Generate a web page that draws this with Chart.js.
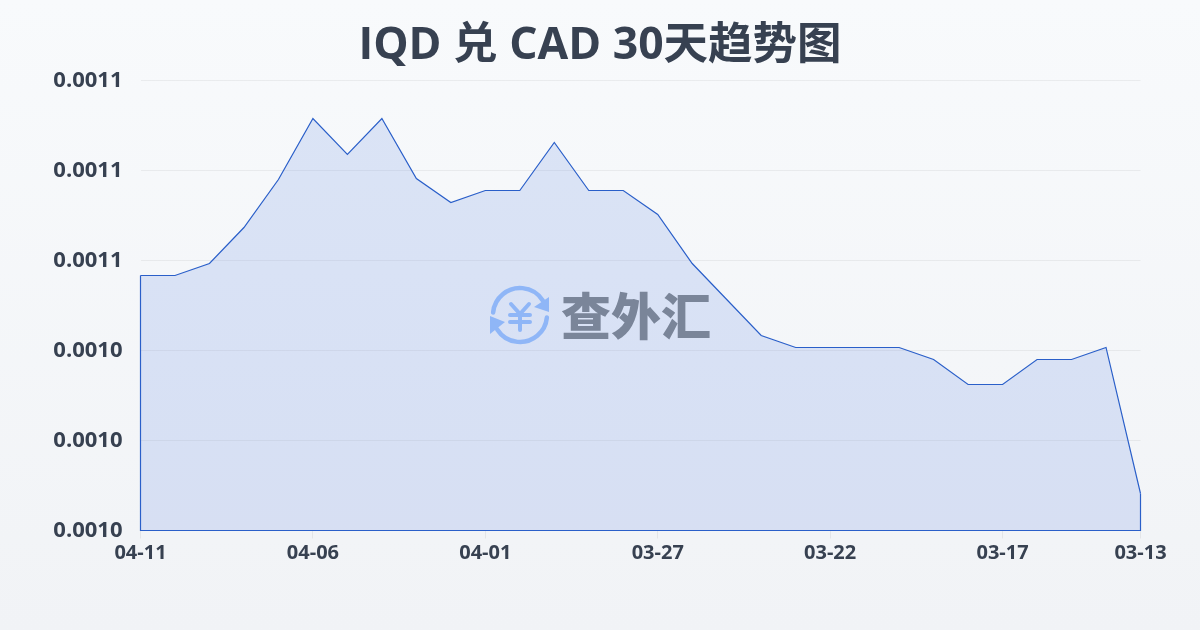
<!DOCTYPE html>
<html>
<head>
<meta charset="utf-8">
<style>
html,body{margin:0;padding:0;width:1200px;height:630px;overflow:hidden;background:linear-gradient(180deg,#f8fafc 0%,#f1f3f6 100%);}
canvas{display:block;}
</style>
<script src="https://cdn.jsdelivr.net/npm/chart.js@4/dist/chart.umd.min.js"></script>
</head>
<body>
<canvas id="c" width="1200" height="630"></canvas>
<script>
const titleText = 'IQD 兑 CAD 30天趋势图';
const categories = ['04-11','04-10','04-09','04-08','04-07','04-06','04-05','04-04','04-03','04-02','04-01','03-31','03-30','03-29','03-28','03-27','03-26','03-25','03-24','03-23','03-22','03-21','03-20','03-19','03-18','03-17','03-16','03-15','03-14','03-13'];
const rates = [0.00105667,0.00105667,0.00105933,0.00106733,0.001078,0.00109156,0.00108356,0.00109156,0.00107822,0.00107289,0.00107556,0.00107556,0.00108622,0.00107556,0.00107556,0.00107022,0.00105933,0.00105133,0.00104333,0.00104067,0.00104067,0.00104067,0.00104067,0.001038,0.00103244,0.00103244,0.001038,0.001038,0.00104067,0.00100822];
const yMin = 0.001, yMax = 0.0011, yStep = 0.00002;
const tickEvery = 5;
const ink = '#374151', lineColor = '#2a5fc9';

const closeArea = {
  id:'closeArea',
  afterDatasetsDraw(chart){
    const x = chart.scales.x, y = chart.scales.y, c = chart.ctx;
    const last = rates.length-1;
    c.save();
    c.strokeStyle = lineColor; c.lineWidth = 1.2;
    c.beginPath();
    c.moveTo(x.getPixelForValue(0), y.getPixelForValue(rates[0]));
    c.lineTo(x.getPixelForValue(0), y.getPixelForValue(yMin));
    c.lineTo(x.getPixelForValue(last), y.getPixelForValue(yMin));
    c.lineTo(x.getPixelForValue(last), y.getPixelForValue(rates[last]));
    c.stroke();
    c.restore();
  }
};

const watermark = {
  id:'watermark',
  afterDraw(chart){
    const c = chart.ctx, cx = 520, cy = 315, r = 27;
    c.save();
    const blue = '#8fb6f7';
    c.strokeStyle = blue; c.fillStyle = blue; c.lineWidth = 4.5; c.lineCap = 'round';
    c.beginPath(); c.arc(cx,cy,r,Math.PI*1.03,Math.PI*1.82); c.stroke();
    c.beginPath(); c.arc(cx,cy,r,Math.PI*0.03,Math.PI*0.82); c.stroke();
    c.beginPath(); c.moveTo(549,297); c.lineTo(549,312); c.lineTo(534,307); c.closePath(); c.fill();
    c.beginPath(); c.moveTo(490,316); c.lineTo(505,322); c.lineTo(490,334); c.closePath(); c.fill();
    c.lineWidth = 4;
    c.beginPath();
    c.moveTo(511,304); c.lineTo(520,314); c.lineTo(529,304);
    c.moveTo(520,314); c.lineTo(520,330);
    c.moveTo(510,315); c.lineTo(530,315);
    c.moveTo(510,322); c.lineTo(530,322);
    c.stroke();
    c.fillStyle = '#7a8599';
    c.font = '900 50px "Noto Sans CJK SC"';
    c.textAlign = 'left'; c.textBaseline = 'middle';
    c.fillText('查外汇', 561, 316);
    c.restore();
  }
};

new Chart(document.getElementById('c'), {
  type:'line',
  data:{labels:categories,datasets:[{
    data:rates,
    borderColor:lineColor,
    borderWidth:1.2,
    backgroundColor:'rgba(59,105,220,0.15)',
    fill:'start',
    tension:0,
    pointRadius:0
  }]},
  options:{
    responsive:false,
    animation:false,
    layout:{padding:0},
    plugins:{
      legend:{display:false},
      tooltip:{enabled:false},
      title:{display:true,text:titleText,color:ink,
        font:{family:'"Open Sans","Noto Sans CJK SC",sans-serif',size:44.5,weight:'bold',lineHeight:1.2},
        padding:{top:20,bottom:7.1}}
    },
    scales:{
      x:{
        type:'category',
        offset:false,
        afterBuildTicks(a){ a.ticks = a.ticks.filter((t,i)=> i%tickEvery===0 || i===categories.length-1); },
        afterFit(a){ a.height = 99.5; },
        border:{display:false},
        grid:{drawOnChartArea:false,color:'rgba(0,0,0,0.06)',tickLength:8},
        ticks:{autoSkip:false,maxRotation:0,minRotation:0,color:ink,padding:3,
          font:{family:'"Open Sans",sans-serif',size:20,weight:'bold'}}
      },
      y:{
        min:yMin,max:yMax,
        afterFit(a){ a.width = 140.5; },
        border:{display:false},
        grid:{color:'rgba(0,0,0,0.055)',drawTicks:false},
        ticks:{stepSize:yStep,color:ink,padding:18,
          callback:v=>v.toFixed(4),
          font:{family:'"Open Sans",sans-serif',size:22,weight:'bold'}}
      },
      rightGutter:{
        position:'right',
        afterFit(a){ a.width = 59.5; },
        border:{display:false},
        grid:{display:false},
        ticks:{display:false}
      }
    }
  },
  plugins:[closeArea,watermark]
});
</script>
</body>
</html>
